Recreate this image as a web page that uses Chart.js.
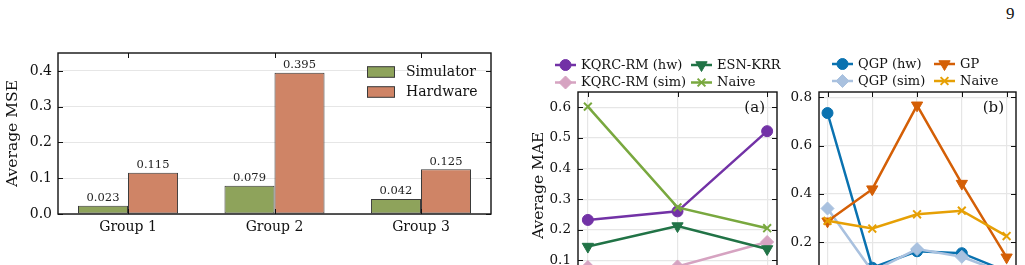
<!DOCTYPE html>
<html><head><meta charset="utf-8">
<script src="https://cdn.jsdelivr.net/npm/chart.js@4.4.1/dist/chart.umd.min.js"></script>
<style>
html,body{margin:0;padding:0;background:#fff;overflow:hidden;width:1025px;height:265px;position:relative}
canvas{position:absolute;top:0}
#pg{position:absolute;left:1006px;top:5px;font-size:17px;line-height:17px;font-family:'Liberation Serif',serif;color:#111}
</style></head><body>
<div id="pg">9</div>
<canvas id="c1" width="520" height="265" style="left:0px"></canvas>
<canvas id="c2" width="270" height="300" style="left:520px"></canvas>
<canvas id="c3" width="245" height="300" style="left:780px"></canvas>
<script>
// ---- data: left bar chart ----
const groups = ['Group 1', 'Group 2', 'Group 3'];
const simulatorMSE = [0.023, 0.079, 0.042];
const hardwareMSE = [0.115, 0.395, 0.125];
const mseTicks = [0.0, 0.1, 0.2, 0.3, 0.4];

// ---- data: panel (a) ----
const aX = [0, 1, 2];
const kqrcHw = [0.232, 0.260, 0.522];
const kqrcSim = [0.078, 0.080, 0.160];
const esnKrr = [0.145, 0.212, 0.137];
const naiveA = [0.602, 0.273, 0.205];
const maeTicksA = [0.1, 0.2, 0.3, 0.4, 0.5, 0.6];

// ---- data: panel (b) ----
const bX = [0, 1, 2, 3, 4];
const qgpHw = [0.735, 0.095, 0.163, 0.155, 0.080];
const qgpSim = [0.340, 0.080, 0.172, 0.140, 0.070];
const gp = [0.287, 0.420, 0.767, 0.443, 0.138];
const naiveB = [0.289, 0.257, 0.316, 0.331, 0.226];
const maeTicksB = [0.2, 0.4, 0.6, 0.8];

const SERIF = "'DejaVu Serif', serif";
const INK = '#111';

function pts(xs, ys) { return xs.map((x, i) => ({x: x, y: ys[i]})); }

// frame + inward ticks on all four sides
const framePlugin = {
  id: 'frame',
  afterDatasetsDraw(chart) {
    const {ctx, chartArea: a, scales} = chart;
    ctx.save();
    ctx.strokeStyle = INK;
    ctx.lineWidth = 1;
    const L = 5;
    ctx.beginPath();
    scales.y.ticks.forEach(t => {
      const y = Math.round(scales.y.getPixelForValue(t.value)) + 0.5;
      ctx.moveTo(a.left, y); ctx.lineTo(a.left + L, y);
      ctx.moveTo(a.right, y); ctx.lineTo(a.right - L, y);
    });
    scales.x.ticks.forEach(t => {
      const x = Math.round(scales.x.getPixelForValue(t.value)) + 0.5;
      ctx.moveTo(x, a.top); ctx.lineTo(x, a.top + L);
      ctx.moveTo(x, a.bottom); ctx.lineTo(x, a.bottom - L);
    });
    ctx.stroke();
    ctx.lineWidth = 1.4;
    ctx.strokeRect(a.left, a.top, a.right - a.left, a.bottom - a.top);
    ctx.restore();
  }
};

// value labels above bars + inside legend for the bar chart
const barExtras = {
  id: 'barExtras',
  afterDatasetsDraw(chart) {
    const {ctx} = chart;
    ctx.save();
    ctx.fillStyle = '#222';
    ctx.font = "11.5px " + SERIF;
    ctx.textAlign = 'center';
    ctx.textBaseline = 'bottom';
    chart.data.datasets.forEach((ds, di) => {
      chart.getDatasetMeta(di).data.forEach((el, i) => {
        ctx.fillText(ds.data[i].y.toFixed(3), el.x, el.y - 2);
      });
    });
    // legend
    ctx.font = "14px " + SERIF;
    ctx.textAlign = 'left';
    ctx.textBaseline = 'middle';
    chart.data.datasets.forEach((ds, di) => {
      const cy = 72 + di * 20;
      ctx.fillStyle = ds.backgroundColor;
      ctx.fillRect(367, cy - 5.3, 27, 10.6);
      ctx.strokeStyle = ds.borderColor;
      ctx.lineWidth = 1;
      ctx.strokeRect(367.5, cy - 5.3, 27, 10.6);
      ctx.fillStyle = INK;
      ctx.fillText(ds.label, 406, cy + 0.5);
    });
    ctx.restore();
  }
};

// line legend (line + marker handles) and panel tag
function lineExtras(cfg) {
  return {
    id: 'lineExtras',
    afterDraw(chart) {
      const {ctx} = chart;
      ctx.save();
      ctx.font = "13px " + SERIF;
      ctx.textBaseline = 'middle';
      ctx.textAlign = 'left';
      cfg.items.forEach(it => {
        const ds = chart.data.datasets[it.ds];
        const x0 = cfg.cols[it.col], y = cfg.rows[it.row];
        ctx.strokeStyle = ds.borderColor;
        ctx.lineWidth = 2.5;
        ctx.beginPath();
        ctx.moveTo(x0, y); ctx.lineTo(x0 + 21, y);
        ctx.stroke();
        ctx.fillStyle = ds.pointBackgroundColor;
        ctx.strokeStyle = ds.borderColor;
        ctx.lineWidth = ds.pointBorderWidth;
        Chart.helpers.drawPoint(ctx, {
          pointStyle: ds.pointStyle, radius: ds.pointRadius,
          rotation: ds.pointRotation || 0, borderWidth: ds.pointBorderWidth
        }, x0 + 10.5, y);
        ctx.fillStyle = INK;
        ctx.fillText(ds.label, x0 + 26, y + 0.5);
      });
      const a = chart.chartArea;
      ctx.font = "15px " + SERIF;
      ctx.textAlign = 'right';
      ctx.fillText(cfg.tag, a.right - 12, 108);
      ctx.restore();
    }
  };
}

function lineDS(label, xs, ys, color, style, radius, order, rot) {
  return {
    label: label, data: pts(xs, ys), borderColor: color, backgroundColor: color,
    pointBackgroundColor: color, pointBorderColor: color,
    pointStyle: style, pointRadius: radius, pointRotation: rot || 0,
    pointBorderWidth: style === 'crossRot' ? 2 : 1,
    borderWidth: 2.5, order: order, tension: 0, fill: false
  };
}

const GRID = '#e6e6e6';

// ---------- bar chart ----------
new Chart(document.getElementById('c1'), {
  type: 'bar',
  data: {
    datasets: [
      {label: 'Simulator', data: pts([0, 1, 2], simulatorMSE), backgroundColor: '#8ea35b',
       borderColor: '#3a3a3a', borderWidth: 1, borderSkipped: false, categoryPercentage: 0.683, barPercentage: 1},
      {label: 'Hardware', data: pts([0, 1, 2], hardwareMSE), backgroundColor: '#cf8466',
       borderColor: '#3a3a3a', borderWidth: 1, borderSkipped: false, categoryPercentage: 0.683, barPercentage: 1}
    ]
  },
  options: {
    responsive: false, animation: false, devicePixelRatio: 1,
    layout: {padding: {top: 53, right: 29, left: 0, bottom: 0}},
    plugins: {legend: {display: false}, tooltip: {enabled: false}},
    scales: {
      x: {
        type: 'linear', min: -0.478, max: 2.478, offset: false,
        afterBuildTicks: s => { s.ticks = groups.map((g, i) => ({value: i})); },
        ticks: {callback: v => groups[v], color: INK, font: {family: SERIF, size: 14}, padding: 5, autoSkip: false, maxRotation: 0},
        grid: {display: false, drawTicks: false, offset: false}, border: {display: false},
        afterFit: s => { s.height = 51; }
      },
      y: {
        min: 0, max: 0.45,
        afterBuildTicks: s => { s.ticks = mseTicks.map(v => ({value: v})); },
        ticks: {callback: v => v.toFixed(1), color: INK, font: {family: SERIF, size: 14}, padding: 6},
        grid: {color: GRID, lineWidth: 1, drawTicks: false}, border: {display: false},
        title: {display: true, text: 'Average MSE', color: INK, font: {family: SERIF, size: 15.5}, padding: {top: 4, bottom: 0}},
        afterFit: s => { s.width = 58; }
      }
    }
  },
  plugins: [framePlugin, barExtras]
});

// ---------- panel (a) ----------
new Chart(document.getElementById('c2'), {
  type: 'line',
  data: {
    datasets: [
      lineDS('KQRC-RM (hw)', aX, kqrcHw, '#7232a6', 'circle', 5.5, 4),
      lineDS('KQRC-RM (sim)', aX, kqrcSim, '#d6a3c1', 'rectRot', 6.5, 3),
      lineDS('ESN-KRR', aX, esnKrr, '#217346', 'triangle', 6.5, 2, 180),
      lineDS('Naive', aX, naiveA, '#79a83f', 'crossRot', 5.5, 1)
    ]
  },
  options: {
    responsive: false, animation: false, devicePixelRatio: 1,
    layout: {padding: {top: 92, right: 13, left: 0, bottom: 0}},
    plugins: {legend: {display: false}, tooltip: {enabled: false}},
    scales: {
      x: {
        type: 'linear', min: -0.11, max: 2.11,
        afterBuildTicks: s => { s.ticks = aX.map(v => ({value: v})); },
        ticks: {display: false},
        grid: {color: GRID, lineWidth: 1.2, drawTicks: false}, border: {display: false},
        afterFit: s => { s.height = 21.3; }
      },
      y: {
        min: 0.04, max: 0.65,
        afterBuildTicks: s => { s.ticks = maeTicksA.map(v => ({value: v})); },
        ticks: {callback: v => v.toFixed(1), color: INK, font: {family: SERIF, size: 13.5}, padding: 7},
        grid: {color: GRID, lineWidth: 1.2, drawTicks: false}, border: {display: false},
        title: {display: true, text: 'Average MAE', color: INK, font: {family: SERIF, size: 15.5}, padding: {top: 10, bottom: 0}},
        afterFit: s => { s.width = 58; }
      }
    }
  },
  plugins: [framePlugin, lineExtras({
    cols: [35, 171], rows: [65, 82.5], tag: '(a)',
    items: [{ds: 0, col: 0, row: 0}, {ds: 1, col: 0, row: 1}, {ds: 2, col: 1, row: 0}, {ds: 3, col: 1, row: 1}]
  })]
});

// ---------- panel (b) ----------
new Chart(document.getElementById('c3'), {
  type: 'line',
  data: {
    datasets: [
      lineDS('QGP (hw)', bX, qgpHw, '#0a72b0', 'circle', 5.5, 4),
      lineDS('QGP (sim)', bX, qgpSim, '#a9c1df', 'rectRot', 6.5, 3),
      lineDS('GP', bX, gp, '#d45f06', 'triangle', 6.5, 2, 180),
      lineDS('Naive', bX, naiveB, '#e6a005', 'crossRot', 5.5, 1)
    ]
  },
  options: {
    responsive: false, animation: false, devicePixelRatio: 1,
    layout: {padding: {top: 92, right: 9, left: 0, bottom: 0}},
    plugins: {legend: {display: false}, tooltip: {enabled: false}},
    scales: {
      x: {
        type: 'linear', min: -0.19, max: 4.21,
        afterBuildTicks: s => { s.ticks = bX.map(v => ({value: v})); },
        ticks: {display: false},
        grid: {color: GRID, lineWidth: 1.2, drawTicks: false}, border: {display: false},
        afterFit: s => { s.height = 19; }
      },
      y: {
        min: 0.04, max: 0.822,
        afterBuildTicks: s => { s.ticks = maeTicksB.map(v => ({value: v})); },
        ticks: {callback: v => v.toFixed(1), color: INK, font: {family: SERIF, size: 13.5}, padding: 7},
        grid: {color: GRID, lineWidth: 1.2, drawTicks: false}, border: {display: false},
        afterFit: s => { s.width = 39; }
      }
    }
  },
  plugins: [framePlugin, lineExtras({
    cols: [52, 154], rows: [64, 81], tag: '(b)',
    items: [{ds: 0, col: 0, row: 0}, {ds: 1, col: 0, row: 1}, {ds: 2, col: 1, row: 0}, {ds: 3, col: 1, row: 1}]
  })]
});
</script>
</body></html>
